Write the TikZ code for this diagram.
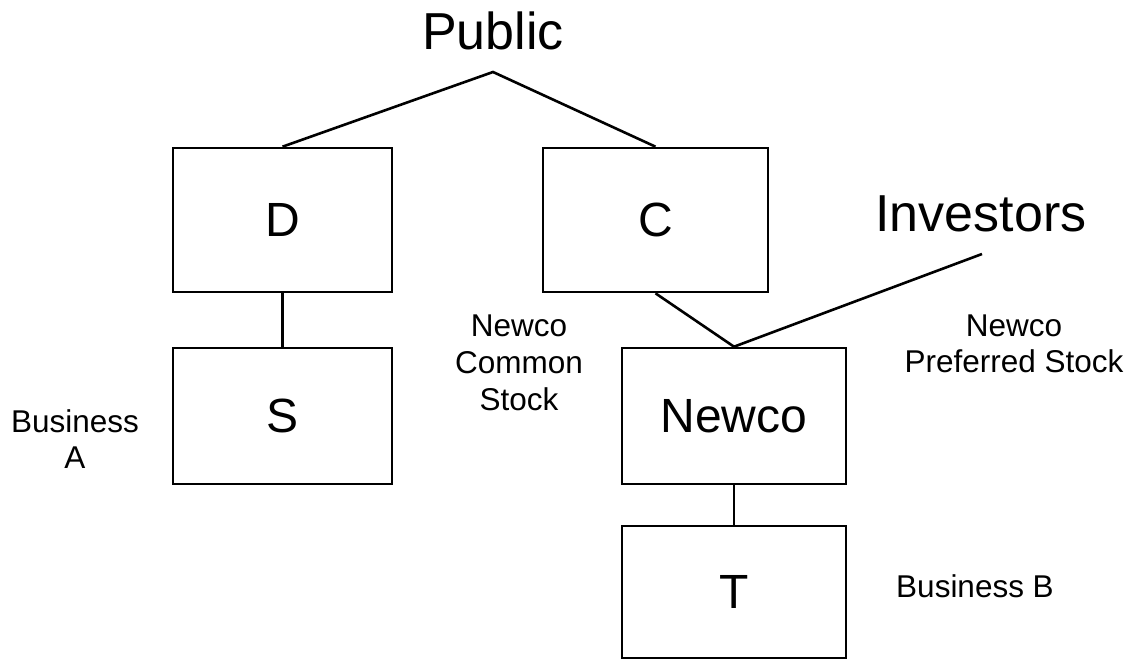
\documentclass[tikz,border=0pt]{standalone}
\usepackage{fontspec}
\setmainfont{Liberation Sans}
\begin{document}
\begin{tikzpicture}[x=1pt,y=-1pt,
  line width=2.6pt,
  entity/.style={draw, rectangle, inner sep=0pt, font=\fontsize{48}{56}\selectfont},
  big/.style={inner sep=0pt, anchor=base, font=\fontsize{52}{60}\selectfont},
  note/.style={inner sep=0pt, align=center, font=\fontsize{31.5}{36}\selectfont}]
  \useasboundingbox (0,0) rectangle (1126,660);

  % owners
  \node[big] (public) at (493,50) {Public};
  \node[big] (investors) at (981,232) {Investors};
  \coordinate (pubtop) at (493,72);
  \coordinate (invfoot) at (982,254);

  % companies
  \node[entity, minimum width=219pt, minimum height=144pt] (D) at (282.5,220) {D};
  \node[entity, minimum width=225pt, minimum height=144pt] (C) at (655.5,220) {C};
  \node[entity, minimum width=219pt, minimum height=136pt] (S) at (282.5,416) {S};
  \node[entity, minimum width=224pt, minimum height=136pt] (N) at (734,416) {Newco};
  \node[entity, minimum width=224pt, minimum height=132pt] (T) at (734,592) {T};

  % ownership links
  \draw (D.north) -- (pubtop) -- (C.north);
  \draw (D.south) -- (S.north);
  \draw (C.south) -- (N.north);
  \draw (invfoot) -- (N.north);
  \draw (N.south) -- (T.north);

  % descriptions
  \node[note, font=\fontsize{31.5}{37}\selectfont] (common) at (519,362.7) {Newco\\Common\\Stock};
  \node[note] (preferred) at (1014,343.7) {Newco\\Preferred Stock};
  \node[note] (busA) at (75,438.7) {Business\\A};
  \node[note, anchor=base] (busB) at (975,597) {Business B};
\end{tikzpicture}
\end{document}
